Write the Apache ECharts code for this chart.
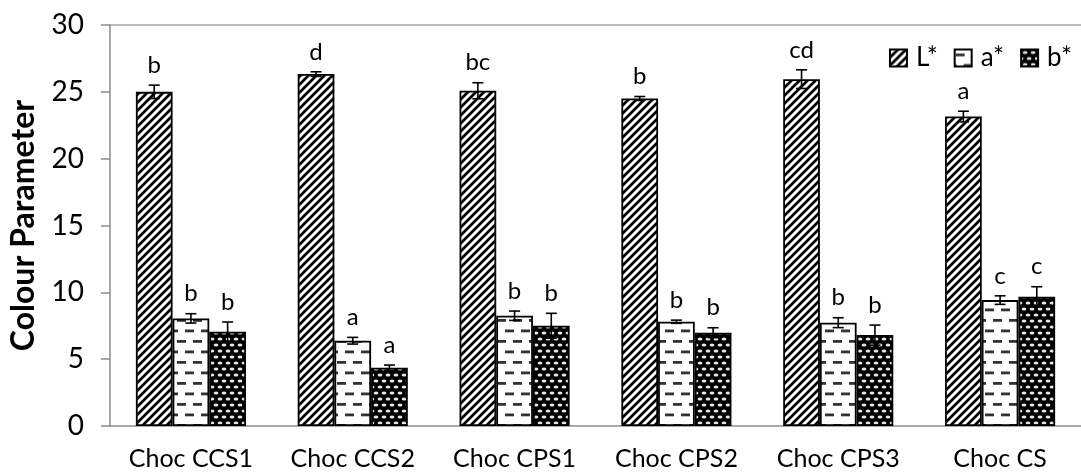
<!DOCTYPE html>
<html lang="en">
<head>
    <meta charset="UTF-8"/>
    <title>colour parameter</title>
    <script src="https://cdn.jsdelivr.net/npm/echarts@6/dist/echarts.min.js"></script>
    <style>
        html, body { margin: 0; padding: 0; background: #fff; }
        #main { width: 1081px; height: 476px; }
    </style>
</head>
<body>
<div id="main"></div>
<script type="text/javascript">
    // data
    var categories = ['Choc CCS1', 'Choc CCS2', 'Choc CPS1', 'Choc CPS2', 'Choc CPS3', 'Choc CS'];
    var seriesNames = ['L*', 'a*', 'b*'];
    var lValues = [25.0, 26.33, 25.08, 24.5, 25.95, 23.15];
    var lErrors = [0.5, 0.17, 0.6, 0.15, 0.7, 0.4];
    var lLetters = ['b', 'd', 'bc', 'b', 'cd', 'a'];
    var aValues = [8.05, 6.38, 8.25, 7.8, 7.73, 9.42];
    var aErrors = [0.35, 0.25, 0.35, 0.12, 0.37, 0.32];
    var aLetters = ['b', 'a', 'b', 'b', 'b', 'c'];
    var bValues = [7.05, 4.36, 7.5, 6.98, 6.8, 9.67];
    var bErrors = [0.73, 0.2, 0.93, 0.37, 0.75, 0.75];
    var bLetters = ['b', 'a', 'b', 'b', 'b', 'c'];
    var yTicks = [0, 5, 10, 15, 20, 25, 30];

    var FONT = 'Lato';
    var barW = 36.7;

    // fill patterns
    function stripes() {
        var c = document.createElement('canvas');
        c.width = c.height = 8;
        var g = c.getContext('2d');
        g.fillStyle = '#fff';
        g.fillRect(0, 0, 8, 8);
        g.strokeStyle = '#000';
        g.lineWidth = 2.7;
        g.beginPath();
        g.moveTo(-2, 10); g.lineTo(10, -2);
        g.moveTo(-2, 2); g.lineTo(2, -2);
        g.moveTo(6, 10); g.lineTo(10, 6);
        g.stroke();
        return c;
    }
    function dashes() {
        var c = document.createElement('canvas');
        c.width = 16; c.height = 21;
        var g = c.getContext('2d');
        g.fillStyle = '#fff';
        g.fillRect(0, 0, 16, 21);
        g.fillStyle = '#333';
        g.fillRect(1, 4, 9, 2.8);
        g.fillRect(9, 14.5, 7, 2.8);
        g.fillRect(0, 14.5, 2, 2.8);
        return c;
    }
    function dots() {
        var c = document.createElement('canvas');
        c.width = 8; c.height = 12;
        var g = c.getContext('2d');
        g.fillStyle = '#000';
        g.fillRect(0, 0, 8, 12);
        g.fillStyle = '#e6e6e6';
        function oval(x, y) {
            g.beginPath();
            g.ellipse(x, y, 2.4, 1.5, 0, 0, Math.PI * 2);
            g.fill();
        }
        oval(4, 3);
        oval(0, 9);
        oval(8, 9);
        return c;
    }
    var fills = [
        { image: stripes(), repeat: 'repeat' },
        { image: dashes(), repeat: 'repeat' },
        { image: dots(), repeat: 'repeat' }
    ];

    function errData(vals, errs) {
        return vals.map(function (v, i) { return [i, v, errs[i]]; });
    }

    function errRender(offset, letters) {
        return function (params, api) {
            var i = api.value(0), v = api.value(1), e = api.value(2);
            var top = api.coord([i, v + e]);
            var bot = api.coord([i, v - e]);
            var x = top[0] + offset * barW;
            var cap = 5.5;
            var ls = { stroke: '#000', lineWidth: 1.6 };
            return {
                type: 'group',
                children: [
                    { type: 'line', shape: { x1: x, y1: top[1], x2: x, y2: bot[1] }, style: ls },
                    { type: 'line', shape: { x1: x - cap, y1: top[1], x2: x + cap, y2: top[1] }, style: ls },
                    { type: 'line', shape: { x1: x - cap, y1: bot[1], x2: x + cap, y2: bot[1] }, style: ls },
                    { type: 'text', style: {
                        text: letters[params.dataIndex], x: x, y: top[1] - 8,
                        align: 'center', verticalAlign: 'bottom',
                        fontFamily: FONT, fontSize: 24, fill: '#000'
                    } }
                ]
            };
        };
    }

    var barValues = [lValues, aValues, bValues];
    var errs = [errData(lValues, lErrors), errData(aValues, aErrors), errData(bValues, bErrors)];
    var letterSets = [lLetters, aLetters, bLetters];

    var series = [];
    seriesNames.forEach(function (name, k) {
        series.push({
            name: name,
            type: 'bar',
            barWidth: barW,
            barGap: '0%',
            itemStyle: { color: fills[k], borderColor: '#000', borderWidth: 1.8 },
            data: barValues[k]
        });
    });
    seriesNames.forEach(function (name, k) {
        series.push({
            type: 'custom',
            z: 10,
            silent: true,
            renderItem: errRender(k - 1, letterSets[k]),
            data: errs[k]
        });
    });

    var myChart = echarts.init(document.getElementById('main'));
    var option = {
        animation: false,
        textStyle: { fontFamily: FONT },
        legend: {
            data: seriesNames,
            right: 4,
            top: 40,
            icon: 'rect',
            itemWidth: 17,
            itemHeight: 17,
            itemGap: 16,
            textStyle: { fontFamily: FONT, fontSize: 26, color: '#000', padding: [0, 0, 0, 4] }
        },
        // the plot runs past the right edge of the picture
        grid: { left: 105, right: -8, top: 25, bottom: 50 },
        xAxis: {
            type: 'category',
            data: categories,
            axisLine: { lineStyle: { color: '#8c8c8c', width: 1.5 } },
            axisTick: { show: false },
            axisLabel: { color: '#000', fontSize: 25, fontFamily: FONT, margin: 20 }
        },
        yAxis: {
            type: 'value',
            min: yTicks[0],
            max: yTicks[yTicks.length - 1],
            interval: 5,
            name: 'Colour Parameter',
            nameLocation: 'middle',
            nameGap: 70,
            nameTextStyle: { fontFamily: FONT, fontSize: 32, fontWeight: 'bold', color: '#000' },
            axisLine: { show: true, lineStyle: { color: '#8c8c8c', width: 1.5 } },
            axisTick: { show: true, length: 9, lineStyle: { color: '#8c8c8c', width: 1.5 } },
            axisLabel: { color: '#000', fontSize: 28, fontFamily: FONT, margin: 26 },
            splitLine: {
                show: true,
                lineStyle: { color: ['transparent', 'transparent', 'transparent', 'transparent', 'transparent', 'transparent', '#a6a6a6'], width: 1.5 }
            }
        },
        series: series
    };
    myChart.setOption(option);
</script>
</body>
</html>
